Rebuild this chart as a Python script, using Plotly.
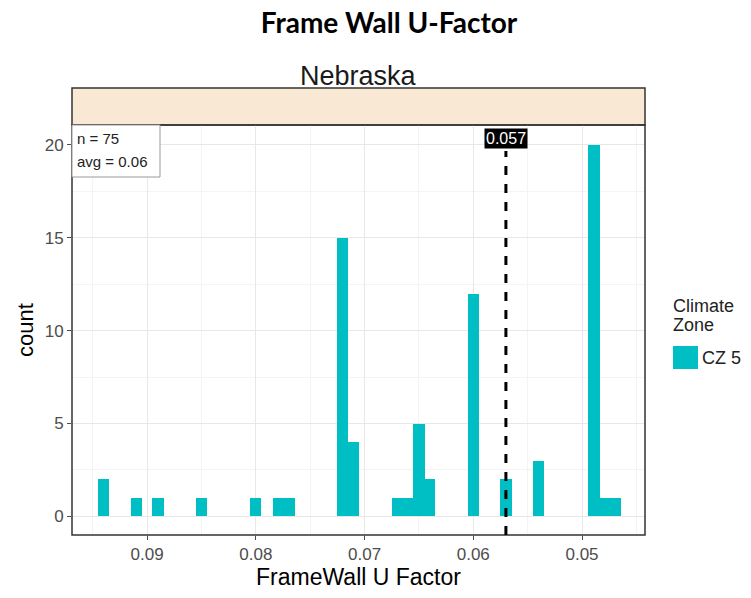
import plotly.graph_objects as go

# histogram bins (bin centre, count)
bin_centers = [0.0940, 0.0910, 0.0890, 0.0850, 0.0800, 0.0779, 0.0769,
               0.0720, 0.0710, 0.0670, 0.0660, 0.0650, 0.0640,
               0.0600, 0.0570, 0.0540, 0.0489, 0.0479, 0.0469]
counts = [2, 1, 1, 1, 1, 1, 1,
          15, 4, 1, 1, 5, 2,
          12, 2, 3, 20, 1, 1]
bin_width = 0.00103

state = 'Nebraska'
zone = 'CZ 5'
n_obs = 75
avg_val = 0.06
marker_val = 0.057

x_ticks = [0.09, 0.08, 0.07, 0.06, 0.05]
y_ticks = [0, 5, 10, 15, 20]

bar_color = '#00BFC4'
W, H = 751, 598
L, R, T, B = 72, 106, 88, 63
pw, ph = W - L - R, H - T - B
panel_top = (H - B - 125) / ph  # y domain top, strip sits above


def px_x(p):
    # window pixel -> paper x
    return (p - L) / pw


def px_y(p):
    # window pixel -> paper y
    return (H - B - p) / ph


fig = go.Figure()
fig.add_trace(go.Bar(
    x=bin_centers, y=counts, width=[bin_width] * len(counts),
    marker=dict(color=bar_color, line=dict(width=0)),
    name=zone, showlegend=False,
))

fig.update_layout(
    width=W, height=H,
    margin=dict(l=L, r=R, t=T, b=B, autoexpand=False),
    paper_bgcolor='white', plot_bgcolor='white',
    font=dict(family='Liberation Sans, Arial, sans-serif', color='#4d4d4d'),
    title=dict(text='<b>Frame Wall U-Factor</b>', x=389 / W, xanchor='center',
               y=1 - 23 / H, yanchor='middle', yref='container',
               font=dict(family='Lato, Open Sans, sans-serif', size=28, color='black')),
    bargap=0,
)

fig.update_xaxes(
    range=[0.0969, 0.04421], tickvals=x_ticks,
    ticktext=[f'{v:.2f}' for v in x_ticks],
    showgrid=True, gridcolor='#e8e8e8', gridwidth=1,
    minor=dict(tickvals=[0.095, 0.085, 0.075, 0.065, 0.055, 0.045],
               showgrid=True, gridcolor='#f4f4f4', gridwidth=1),
    ticks='outside', ticklen=4, tickcolor='#4d4d4d',
    tickfont=dict(size=17, color='#4d4d4d'),
    zeroline=False, showline=False, automargin=False,
    title=dict(text='FrameWall U Factor', font=dict(size=23, color='black'), standoff=4),
)
fig.update_yaxes(
    domain=[0, panel_top], range=[-1, 21.07], tickvals=y_ticks,
    showgrid=True, gridcolor='#e8e8e8', gridwidth=1,
    minor=dict(tickvals=[2.5, 7.5, 12.5, 17.5], showgrid=True,
               gridcolor='#f4f4f4', gridwidth=1),
    ticks='outside', ticklen=4, tickcolor='#4d4d4d',
    tickfont=dict(size=17, color='#4d4d4d'),
    zeroline=False, showline=False, automargin=False,
    title=dict(text='count', font=dict(size=22, color='black'), standoff=4),
)

# panel border
fig.add_shape(type='rect', xref='paper', yref='paper', x0=0, x1=1, y0=0, y1=panel_top,
              line=dict(color='#333333', width=1.5), fillcolor='rgba(0,0,0,0)', layer='above')
# facet strip
fig.add_shape(type='rect', xref='paper', yref='paper', x0=0, x1=1, y0=panel_top, y1=1,
              line=dict(color='#333333', width=1.5), fillcolor='#f9e9d4', layer='below')
fig.add_annotation(text=state, xref='paper', yref='paper', x=0.5, y=px_y(76),
                   yanchor='middle', showarrow=False,
                   font=dict(size=27, color='#1a1a1a'))

# dashed marker line and its label
fig.add_shape(type='line', xref='x', yref='paper', x0=marker_val, x1=marker_val,
              y0=0, y1=px_y(151), line=dict(color='black', width=3, dash='dash'), layer='above')
fig.add_annotation(text=f'{marker_val:.3f}', xref='x', yref='paper', x=marker_val,
                   y=px_y(128), yanchor='top', showarrow=False, bgcolor='black',
                   borderpad=1, font=dict(size=16, color='white'))

# n / avg box
fig.add_shape(type='rect', xref='paper', yref='paper', x0=0, x1=px_x(160),
              y0=px_y(177), y1=panel_top, fillcolor='white',
              line=dict(color='#999999', width=1), layer='above')
fig.add_annotation(text=f'n = {n_obs}', xref='paper', yref='paper',
                   x=px_x(75), y=px_y(138), xanchor='left', yanchor='middle',
                   showarrow=False, font=dict(size=15, color='#222222'))
fig.add_annotation(text=f'avg = {avg_val:.2f}', xref='paper', yref='paper',
                   x=px_x(75), y=px_y(161), xanchor='left', yanchor='middle',
                   showarrow=False, font=dict(size=15, color='#222222'))

# legend drawn by hand so the key matches the ggplot look
fig.add_annotation(text='Climate', xref='paper', yref='paper',
                   x=px_x(671), y=px_y(306), xanchor='left', yanchor='middle',
                   showarrow=False, font=dict(size=18, color='#222222'))
fig.add_annotation(text='Zone', xref='paper', yref='paper',
                   x=px_x(671), y=px_y(325), xanchor='left', yanchor='middle',
                   showarrow=False, font=dict(size=18, color='#222222'))
fig.add_shape(type='rect', xref='paper', yref='paper',
              x0=px_x(673), x1=px_x(698), y0=px_y(369), y1=px_y(346),
              fillcolor=bar_color, line=dict(width=0))
fig.add_annotation(text=zone, xref='paper', yref='paper',
                   x=px_x(700), y=px_y(358), xanchor='left', yanchor='middle',
                   showarrow=False, font=dict(size=18, color='#222222'))

# drop the default 8px body margin so the figure sits at the window corner
fig.write_html('out.html', config={'displayModeBar': False},
               post_script="document.body.style.margin = '0';")
